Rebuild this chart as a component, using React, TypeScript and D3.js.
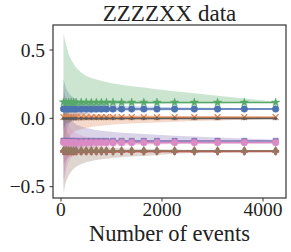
import React from "react";
import * as d3 from "d3";

const events = [50, 100, 150, 200, 250, 300, 400, 500, 600, 700, 800, 900, 1030, 1200, 1400, 1640, 1900, 2250, 2640, 3100, 3630, 4250];

const greenMean = [0.118, 0.117, 0.116, 0.117, 0.116, 0.116, 0.116, 0.117, 0.116, 0.116, 0.116, 0.116, 0.117, 0.116, 0.116, 0.116, 0.116, 0.116, 0.116, 0.116, 0.116, 0.116];
const greenUpper = [0.62, 0.54, 0.47, 0.43, 0.4, 0.37, 0.335, 0.31, 0.295, 0.285, 0.275, 0.265, 0.255, 0.245, 0.235, 0.225, 0.212, 0.198, 0.183, 0.165, 0.145, 0.122];
const greenLower = [-0.05, 0.0, 0.03, 0.05, 0.06, 0.07, 0.08, 0.085, 0.09, 0.092, 0.095, 0.097, 0.099, 0.101, 0.103, 0.105, 0.106, 0.108, 0.109, 0.111, 0.112, 0.113];

const blueMean = [0.069, 0.068, 0.068, 0.069, 0.068, 0.068, 0.068, 0.068, 0.068, 0.068, 0.068, 0.068, 0.068, 0.068, 0.068, 0.068, 0.068, 0.068, 0.068, 0.068, 0.068, 0.068];
const blueUpper = [0.29, 0.22, 0.185, 0.165, 0.15, 0.14, 0.125, 0.115, 0.108, 0.103, 0.1, 0.097, 0.094, 0.091, 0.088, 0.086, 0.084, 0.082, 0.08, 0.078, 0.076, 0.072];
const blueLower = [-0.2, -0.1, -0.05, -0.02, 0.0, 0.01, 0.025, 0.033, 0.038, 0.042, 0.045, 0.047, 0.049, 0.051, 0.053, 0.055, 0.057, 0.059, 0.06, 0.062, 0.063, 0.065];

const orangeMean = [0.009, 0.008, 0.008, 0.008, 0.008, 0.008, 0.008, 0.008, 0.008, 0.008, 0.008, 0.008, 0.008, 0.008, 0.008, 0.008, 0.008, 0.008, 0.008, 0.008, 0.008, 0.008];
const orangeUpper = [0.2, 0.12, 0.09, 0.07, 0.06, 0.05, 0.042, 0.037, 0.033, 0.03, 0.028, 0.026, 0.025, 0.023, 0.022, 0.02, 0.019, 0.017, 0.016, 0.015, 0.013, 0.011];
const orangeLower = [-0.3, -0.2, -0.15, -0.12, -0.1, -0.09, -0.08, -0.07, -0.063, -0.058, -0.054, -0.05, -0.046, -0.042, -0.038, -0.034, -0.03, -0.025, -0.02, -0.015, -0.01, -0.003];

const grayMean = [-0.002, -0.002, -0.002, -0.002, -0.002, -0.002, -0.002, -0.002, -0.002, -0.002, -0.002, -0.002, -0.002, -0.002, -0.002, -0.002, -0.002, -0.002, -0.002, -0.002, -0.002, -0.002];
const grayUpper = [0.06, 0.03, 0.02, 0.015, 0.012, 0.01, 0.008, 0.007, 0.006, 0.005, 0.004, 0.004, 0.003, 0.003, 0.002, 0.002, 0.002, 0.001, 0.001, 0.001, 0.0, 0.0];
const grayLower = [-0.08, -0.04, -0.03, -0.025, -0.02, -0.018, -0.015, -0.013, -0.012, -0.011, -0.01, -0.009, -0.008, -0.007, -0.007, -0.006, -0.006, -0.005, -0.005, -0.004, -0.004, -0.004];

const purpleMean = [-0.163, -0.164, -0.165, -0.165, -0.165, -0.165, -0.165, -0.165, -0.165, -0.165, -0.165, -0.165, -0.165, -0.165, -0.165, -0.165, -0.165, -0.165, -0.165, -0.165, -0.165, -0.165];
const purpleUpper = [0.25, 0.1, 0.03, -0.01, -0.03, -0.045, -0.06, -0.07, -0.078, -0.085, -0.09, -0.095, -0.1, -0.105, -0.11, -0.115, -0.12, -0.127, -0.133, -0.14, -0.147, -0.157];
const purpleLower = [-0.45, -0.33, -0.28, -0.25, -0.235, -0.225, -0.21, -0.2, -0.195, -0.19, -0.187, -0.185, -0.183, -0.181, -0.179, -0.177, -0.175, -0.173, -0.171, -0.17, -0.169, -0.168];

const pinkMean = [-0.176, -0.177, -0.178, -0.178, -0.178, -0.178, -0.178, -0.178, -0.178, -0.178, -0.178, -0.178, -0.178, -0.178, -0.178, -0.178, -0.178, -0.178, -0.178, -0.178, -0.178, -0.178];
const pinkUpper = [0.1, 0.0, -0.05, -0.08, -0.1, -0.11, -0.125, -0.135, -0.14, -0.145, -0.148, -0.151, -0.154, -0.157, -0.16, -0.162, -0.164, -0.166, -0.168, -0.17, -0.172, -0.174];
const pinkLower = [-0.5, -0.38, -0.32, -0.29, -0.27, -0.255, -0.24, -0.23, -0.222, -0.216, -0.212, -0.208, -0.204, -0.2, -0.197, -0.194, -0.191, -0.188, -0.186, -0.184, -0.182, -0.18];

const brownMean = [-0.236, -0.237, -0.238, -0.238, -0.238, -0.238, -0.238, -0.238, -0.238, -0.238, -0.238, -0.238, -0.238, -0.238, -0.238, -0.238, -0.238, -0.238, -0.238, -0.238, -0.238, -0.238];
const brownUpper = [0.05, -0.08, -0.12, -0.15, -0.165, -0.175, -0.19, -0.198, -0.203, -0.207, -0.21, -0.213, -0.216, -0.219, -0.222, -0.224, -0.226, -0.228, -0.23, -0.232, -0.234, -0.236];
const brownLower = [-0.55, -0.46, -0.42, -0.39, -0.37, -0.355, -0.335, -0.322, -0.312, -0.305, -0.3, -0.295, -0.29, -0.285, -0.28, -0.276, -0.268, -0.26, -0.254, -0.25, -0.246, -0.242];

const redMean = [-0.242, -0.242, -0.242, -0.242, -0.242, -0.242, -0.242, -0.242, -0.242, -0.242, -0.242, -0.242, -0.242, -0.242, -0.242, -0.242, -0.242, -0.242, -0.242, -0.242, -0.242, -0.242];
const redUpper = [-0.15, -0.19, -0.205, -0.212, -0.218, -0.222, -0.227, -0.23, -0.232, -0.234, -0.235, -0.236, -0.237, -0.238, -0.239, -0.24, -0.24, -0.241, -0.241, -0.242, -0.242, -0.243];
const redLower = [-0.34, -0.3, -0.285, -0.278, -0.272, -0.268, -0.263, -0.26, -0.258, -0.256, -0.255, -0.254, -0.253, -0.252, -0.251, -0.25, -0.25, -0.249, -0.249, -0.248, -0.248, -0.247];

const xTicks = [0, 2000, 4000];
const yTicks = [-0.5, 0.0, 0.5];
const title = "ZZZZXX data";
const xLabel = "Number of events";

type Series = { name: string; color: string; marker: string; mean: number[]; upper: number[]; lower: number[] };

const series: Series[] = [
  { name: "blue", color: "#4C72B0", marker: "circle", mean: blueMean, upper: blueUpper, lower: blueLower },
  { name: "orange", color: "#DD8452", marker: "x", mean: orangeMean, upper: orangeUpper, lower: orangeLower },
  { name: "green", color: "#55A868", marker: "star", mean: greenMean, upper: greenUpper, lower: greenLower },
  { name: "red", color: "#C44E52", marker: "plus", mean: redMean, upper: redUpper, lower: redLower },
  { name: "purple", color: "#8172B3", marker: "square", mean: purpleMean, upper: purpleUpper, lower: purpleLower },
  { name: "brown", color: "#937860", marker: "diamond", mean: brownMean, upper: brownUpper, lower: brownLower },
  { name: "pink", color: "#DA8BC3", marker: "circle", mean: pinkMean, upper: pinkUpper, lower: pinkLower },
  { name: "gray", color: "#5a5a5a", marker: "dot", mean: grayMean, upper: grayUpper, lower: grayLower },
];

const W = 291;
const H = 252;
const left = 53, right = 286, top = 25, bottom = 198;
const FONT = "'Liberation Serif', 'DejaVu Serif', serif";

const x = d3.scaleLinear().domain([-158, 4455]).range([left, right]);
const y = d3.scaleLinear().domain([-0.583, 0.683]).range([bottom, top]);

function markerPath(kind: string): { d: string; fill: boolean } {
  switch (kind) {
    case "circle": return { d: d3.symbol(d3.symbolCircle, 34)()!, fill: true };
    case "square": return { d: d3.symbol(d3.symbolSquare, 28)()!, fill: true };
    case "star": return { d: d3.symbol(d3.symbolStar, 22)()!, fill: true };
    case "diamond": return { d: d3.symbol(d3.symbolDiamond, 24)()!, fill: true };
    case "plus": return { d: d3.symbol(d3.symbolCross, 24)()!, fill: true };
    case "x": return { d: d3.symbol(d3.symbolTimes, 24)()!, fill: false };
    default: return { d: d3.symbol(d3.symbolCircle, 6)()!, fill: true };
  }
}

export default function App() {
  const line = d3.line<number>().x((_, i) => x(events[i])).y((v) => y(v));

  return (
    <svg width={W} height={H} style={{ position: "absolute", left: 0, top: 0, background: "#fff" }}>
      <defs>
        <clipPath id="plotclip">
          <rect x={left} y={top} width={right - left} height={bottom - top} />
        </clipPath>
      </defs>
      <g clipPath="url(#plotclip)">
        {series.map((s) => {
          const a = d3.area<number>()
            .x((_, i) => x(events[i]))
            .y0((_, i) => y(s.lower[i]))
            .y1((_, i) => y(s.upper[i]));
          return <path key={s.name + "b"} d={a(s.mean)!} fill={s.color} fillOpacity={0.3} stroke="none" />;
        })}
        {series.map((s) => {
          const m = markerPath(s.marker);
          return (
            <g key={s.name + "l"}>
              <path d={line(s.mean)!} fill="none" stroke={s.color} strokeWidth={1.5} />
              {s.mean.map((v, i) => (
                <path
                  key={i}
                  d={m.d}
                  transform={`translate(${x(events[i])},${y(v)})`}
                  fill={m.fill ? s.color : "none"}
                  stroke={s.color}
                  strokeWidth={m.fill ? 0.5 : 1.3}
                />
              ))}
            </g>
          );
        })}
      </g>
      <rect x={left} y={top} width={right - left} height={bottom - top} fill="none" stroke="#333" strokeWidth={1.2} />
      {xTicks.map((t) => (
        <g key={"xt" + t}>
          <line x1={x(t)} x2={x(t)} y1={bottom} y2={bottom + 3.5} stroke="#333" strokeWidth={1} />
          <text x={x(t)} y={bottom + 18} textAnchor="middle" fontFamily={FONT} fontSize={19.5} fill="#222">{t}</text>
        </g>
      ))}
      {yTicks.map((t) => (
        <g key={"yt" + t}>
          <line x1={left - 3.5} x2={left} y1={y(t)} y2={y(t)} stroke="#333" strokeWidth={1} />
          <text x={left - 8} y={y(t)} dy="0.35em" textAnchor="end" fontFamily={FONT} fontSize={19.5} fill="#222">
            {t < 0 ? "\u2212" + Math.abs(t).toFixed(1) : t.toFixed(1)}
          </text>
        </g>
      ))}
      <text x={(left + right) / 2} y={21} textAnchor="middle" fontFamily={FONT} fontSize={23} fill="#222">{title}</text>
      <text x={(left + right) / 2} y={241} textAnchor="middle" fontFamily={FONT} fontSize={22.5} fill="#222">{xLabel}</text>
    </svg>
  );
}
